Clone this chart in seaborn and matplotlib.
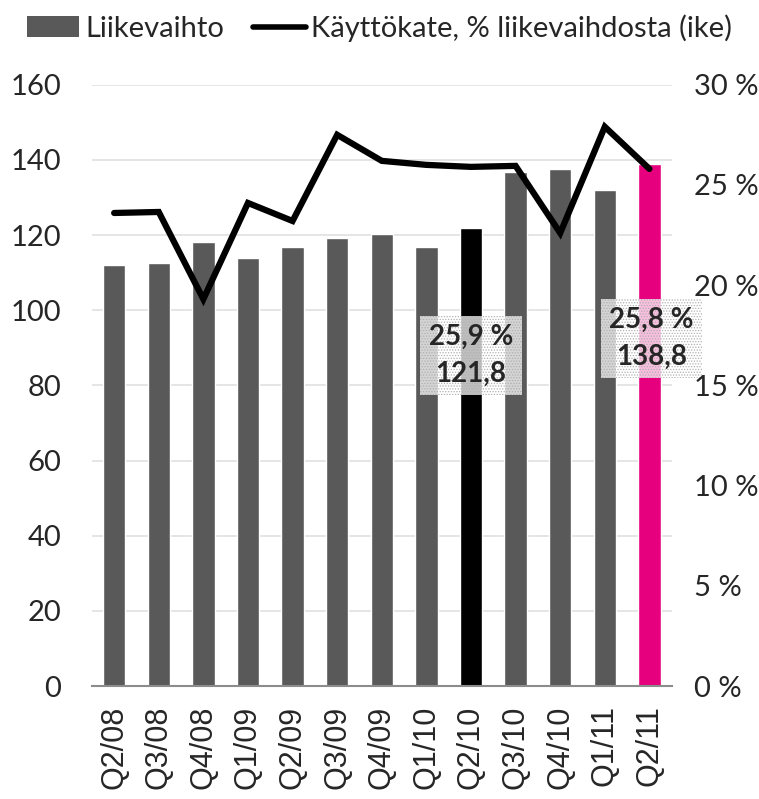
import matplotlib
matplotlib.use("Agg")
import matplotlib.pyplot as plt
import seaborn as sns
import numpy as np
from matplotlib.patches import Patch
from matplotlib.lines import Line2D

quarters = ["Q2/08", "Q3/08", "Q4/08", "Q1/09", "Q2/09", "Q3/09", "Q4/09",
            "Q1/10", "Q2/10", "Q3/10", "Q4/10", "Q1/11", "Q2/11"]
liikevaihto = [112.0, 112.5, 118.2, 114.0, 116.8, 119.2, 120.4,
               116.8, 121.8, 136.8, 137.5, 132.0, 138.8]
kayttokate = [23.6, 23.65, 19.3, 24.1, 23.2, 27.5, 26.2,
              26.0, 25.9, 25.95, 22.6, 27.9, 25.8]
bar_colors = ["#595959"] * 8 + ["#000000"] + ["#595959"] * 3 + ["#e6007e"]
labels = {8: ("25,9 %", "121,8"), 12: ("25,8 %", "138,8")}

sns.set_theme(style="white")
plt.rcParams['font.family'] = ['Lato', 'DejaVu Sans']
plt.rcParams['hatch.linewidth'] = 0.6

fig = plt.figure(figsize=(7.59, 7.99), dpi=100)
ax = fig.add_axes([0.121, 0.1414, 0.764, 0.7526])

sns.barplot(x=quarters, y=liikevaihto, hue=quarters, palette=bar_colors,
            legend=False, width=0.5, ax=ax, saturation=1)
ax.set_ylim(0, 160)
ax.set_yticks(range(0, 161, 20))
ax.yaxis.grid(True, color="#e0e0e0", linewidth=1.2)
ax.set_axisbelow(True)
for s in ["left", "top", "right"]:
    ax.spines[s].set_visible(False)
ax.spines["bottom"].set_color("#8c8c8c")
ax.spines["bottom"].set_linewidth(1.5)
ax.tick_params(axis="y", labelsize=21, length=0, pad=22)
ax.tick_params(axis="x", length=0, pad=14)

ax2 = ax.twinx()
sns.lineplot(x=np.arange(len(quarters)), y=kayttokate, color="black",
             linewidth=4.5, ax=ax2, solid_capstyle="round", solid_joinstyle="miter")
ax2.set_ylim(0, 30)
ax2.set_yticks(range(0, 31, 5))
ax2.set_yticklabels([f"{v} %" for v in range(0, 31, 5)])
ax2.tick_params(axis="y", labelsize=21, length=0, pad=16)
ax2.grid(False)
for s in ["left", "top", "right", "bottom"]:
    ax2.spines[s].set_visible(False)
ax.set_xlim(-0.5, len(quarters) - 0.5)
ax.set_xticks(np.arange(len(quarters)))
ax.set_xticklabels(quarters, rotation=90, fontsize=22,
                   fontfamily="Liberation Sans")

# annotations
for idx, (l1, l2) in labels.items():
    ypos = 88 if idx == 8 else 92.5
    xoff = 0.0 if idx == 8 else 0.05
    ax.text(idx + xoff, ypos, f"{l1}\n{l2}", ha="center", va="center",
            fontsize=20, fontweight="bold", linespacing=1.5,
            bbox=dict(boxstyle="square,pad=0.3", facecolor=(1, 1, 1, 0.75),
                      edgecolor="#b0b0b0", linewidth=0, hatch="......"),
            zorder=5)

handles = [Patch(facecolor="#595959", edgecolor="none"),
           Line2D([0], [0], color="black", linewidth=4)]
fig.legend(handles, ["Liikevaihto", "Käyttökate, % liikevaihdosta (ike)"],
           loc="upper center", bbox_to_anchor=(0.5, 1.015), ncol=2, frameon=False,
           fontsize=21, handlelength=1.8, handletextpad=0.2, columnspacing=1.0)

fig.savefig("out.png", dpi=100)
